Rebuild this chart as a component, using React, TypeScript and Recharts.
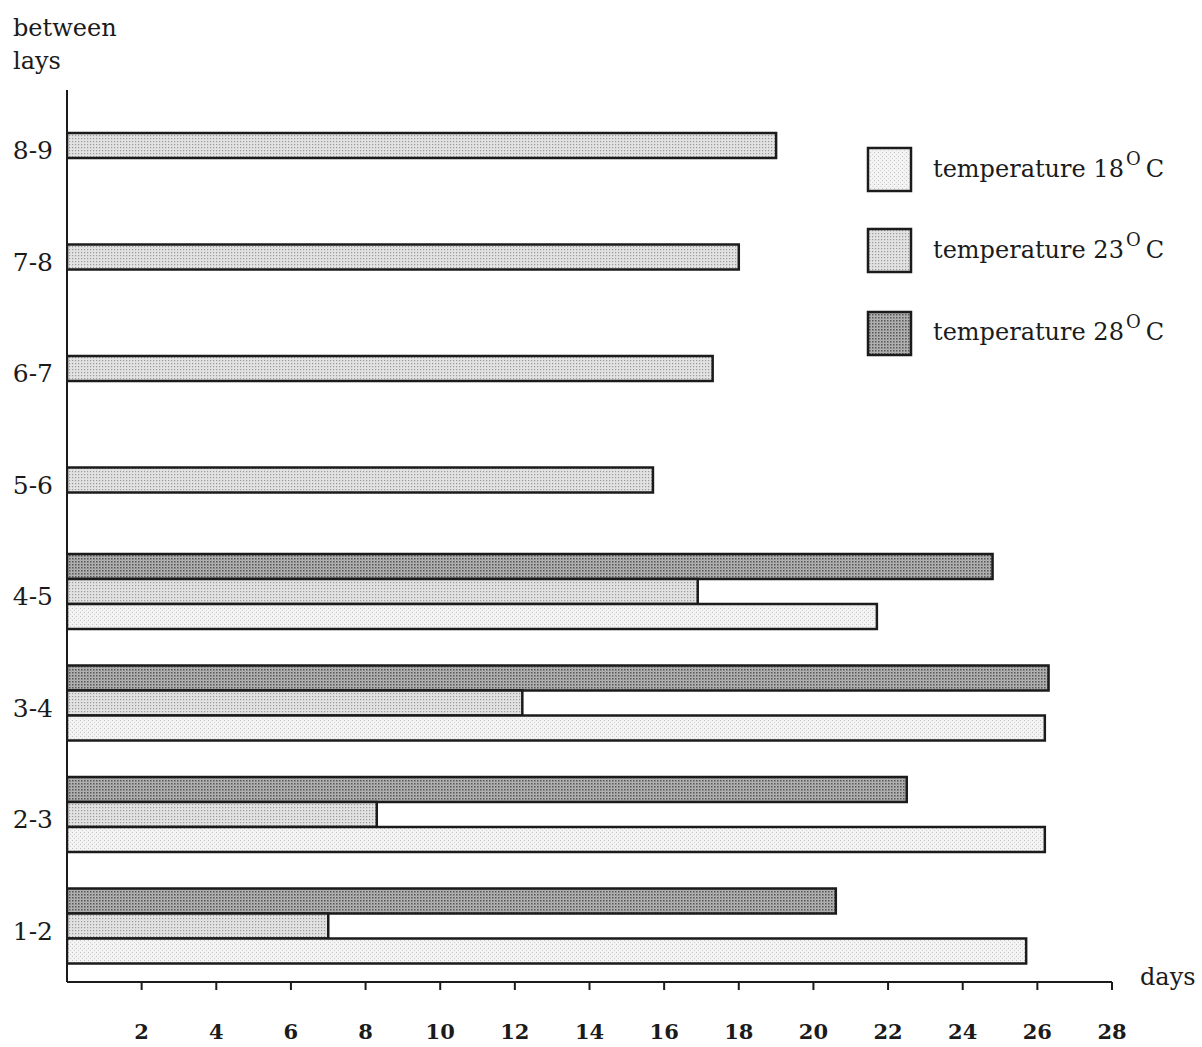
import React from 'react';
import { BarChart, Bar, XAxis, YAxis, Legend } from 'recharts';

const categories = ['8-9', '7-8', '6-7', '5-6', '4-5', '3-4', '2-3', '1-2'];
const temp18 = [null, null, null, null, 21.7, 26.2, 26.2, 25.7];
const temp23 = [19.0, 18.0, 17.3, 15.7, 16.9, 12.2, 8.3, 7.0];
const temp28 = [null, null, null, null, 24.8, 26.3, 22.5, 20.6];
const xTicks = [2, 4, 6, 8, 10, 12, 14, 16, 18, 20, 22, 24, 26, 28];
const legendItems = [
  { key: 't18', value: '18', fill: 'url(#p18)' },
  { key: 't23', value: '23', fill: 'url(#p23)' },
  { key: 't28', value: '28', fill: 'url(#p28)' },
];

const data = categories.map((c, i) => ({ label: c, t18: temp18[i], t23: temp23[i], t28: temp28[i] }));

const FONT = '"DejaVu Serif", "Liberation Serif", serif';
const INK = '#1b1b1b';

const YTick = (props: any) => {
  const { x, y, payload } = props;
  return (
    <text x={x} y={y + 5} textAnchor="end" dominantBaseline="central" fontFamily={FONT} fontSize={25} fill={INK}>
      {payload.value}
    </text>
  );
};

const LegendContent = () => (
  <svg width={336} height={220} style={{ overflow: 'visible' }}>
    {legendItems.map((it, i) => {
      const top = [8, 89, 172][i];
      const base = [37, 118, 200][i];
      return (
        <g key={it.key}>
          <rect x={2} y={top} width={43} height={43} fill={it.fill} stroke={INK} strokeWidth={2.5} />
          <text x={67} y={base} fontFamily={FONT} fontSize={24} fill={INK}>
            {'temperature ' + it.value}
            <tspan fontSize={18} dy={-12} dx={2}>O</tspan>
            <tspan dy={12} dx={5}>C</tspan>
          </text>
        </g>
      );
    })}
  </svg>
);

export default function App() {
  return (
    <div style={{ position: 'absolute', left: 0, top: 0, width: 1202, height: 1047, background: '#fff' }}>
      <svg width={0} height={0} style={{ position: 'absolute' }}>
        <defs>
          <pattern id="p18" patternUnits="userSpaceOnUse" width="4" height="4">
            <rect width="4" height="4" fill="#f3f3f3" />
            <rect x="0" y="0" width="1" height="1" fill="#c4c4c4" />
            <rect x="2" y="2" width="1" height="1" fill="#d4d4d4" />
          </pattern>
          <pattern id="p23" patternUnits="userSpaceOnUse" width="3" height="3">
            <rect width="3" height="3" fill="#e2e2e2" />
            <rect x="0" y="0" width="1.2" height="1.2" fill="#9a9a9a" />
          </pattern>
          <pattern id="p28" patternUnits="userSpaceOnUse" width="3" height="3">
            <rect width="3" height="3" fill="#b4b4b4" />
            <rect x="0" y="0" width="1.5" height="1.5" fill="#555" />
            <rect x="1.5" y="1.5" width="0.8" height="0.8" fill="#777" />
          </pattern>
        </defs>
      </svg>
      <BarChart
        width={1202}
        height={1047}
        data={data}
        layout="vertical"
        margin={{ top: 90, right: 90, bottom: 0, left: 0 }}
        barGap={0}
        barSize={25}
      >
        <XAxis
          type="number"
          domain={[0, 28]}
          ticks={xTicks}
          allowDataOverflow
          height={65}
          axisLine={{ stroke: INK, strokeWidth: 2 }}
          tickLine={{ stroke: INK, strokeWidth: 2 }}
          tickSize={8}
          tickMargin={34}
          tick={{ fontFamily: FONT, fontSize: 21, fontWeight: 'bold', fill: INK }}
        />
        <YAxis
          type="category"
          dataKey="label"
          width={67}
          axisLine={{ stroke: INK, strokeWidth: 2 }}
          tickLine={false}
          tickSize={0}
          tickMargin={14}
          tick={<YTick />}
          interval={0}
        />
        <Legend
          layout="vertical"
          align="center"
          verticalAlign="middle"
          content={<LegendContent />}
          wrapperStyle={{ left: 866, top: 140, width: 336, height: 220 }}
        />
        <Bar dataKey="t28" name="temperature 28°C" fill="url(#p28)" stroke={INK} strokeWidth={2.5} isAnimationActive={false} />
        <Bar dataKey="t23" name="temperature 23°C" fill="url(#p23)" stroke={INK} strokeWidth={2.5} isAnimationActive={false} />
        <Bar dataKey="t18" name="temperature 18°C" fill="url(#p18)" stroke={INK} strokeWidth={2.5} isAnimationActive={false} />
      </BarChart>
      <svg width={1202} height={1047} style={{ position: 'absolute', left: 0, top: 0, pointerEvents: 'none' }}>
        <text x={13} y={36} fontFamily={FONT} fontSize={24} fill={INK}>between</text>
        <text x={13} y={69} fontFamily={FONT} fontSize={24} fill={INK}>lays</text>
        <text x={1140} y={985} fontFamily={FONT} fontSize={24} fill={INK}>days</text>
      </svg>
    </div>
  );
}
